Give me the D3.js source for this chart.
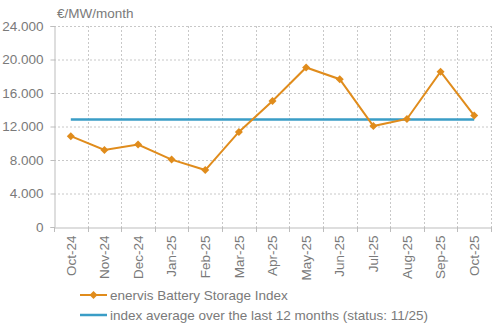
<!DOCTYPE html>
<html><head><meta charset="utf-8">
<script src="https://cdn.jsdelivr.net/npm/d3@7"></script>
<style>body{margin:0;background:#fff}svg{display:block}text{font-family:"Liberation Sans",Arial,sans-serif}</style>
</head><body>
<svg id="c" width="500" height="324"></svg>
<script>
const months = ["Oct-24","Nov-24","Dec-24","Jan-25","Feb-25","Mar-25","Apr-25","May-25","Jun-25","Jul-25","Aug-25","Sep-25","Oct-25"];
const indexValues = [10850, 9200, 9850, 8050, 6800, 11350, 15050, 19050, 17650, 12050, 12900, 18550, 13300];
const averageValue = 12850;
const yTicks = [0, 4000, 8000, 12000, 16000, 20000, 24000];
const seriesNames = ["enervis Battery Storage Index", "index average over the last 12 months (status: 11/25)"];
const unitLabel = "€/MW/month";

const orange = "#E08C1C", blue = "#3A9DC6", grid = "#c8c8c8", txt = "#7a7a7a";
const fs = "13.5px";
const svg = d3.select("#c");
const L = 54, R = 491, T = 26, B = 227;

const x = d3.scaleBand().domain(months).range([L, R]);
const y = d3.scaleLinear().domain([0, 24000]).range([B, T]);
const fmt = v => d3.format(",")(v).replace(/,/g, ".");

// horizontal grid
svg.append("g").selectAll("line").data(yTicks.filter(d => d > 0)).join("line")
  .attr("x1", L).attr("x2", R).attr("y1", d => y(d) + 0.5).attr("y2", d => y(d) + 0.5)
  .attr("stroke", grid).attr("stroke-dasharray", "2,2");
// vertical grid at category boundaries
const bounds = months.map(m => x(m)).slice(1).concat([R]);
svg.append("g").selectAll("line").data(bounds).join("line")
  .attr("x1", d => Math.round(d) + 0.5).attr("x2", d => Math.round(d) + 0.5).attr("y1", T).attr("y2", B)
  .attr("stroke", grid).attr("stroke-dasharray", "2,2");

// y axis
const ya = svg.append("g").attr("transform", `translate(${L + 0.5},0)`)
  .call(d3.axisLeft(y).tickValues(yTicks).tickFormat(fmt).tickSize(4).tickPadding(7));
ya.select(".domain").attr("stroke", "#bdbdbd");
ya.selectAll(".tick line").attr("stroke", "#bdbdbd");
ya.selectAll("text").attr("fill", txt).style("font-size", fs);

// x axis
const xa = svg.append("g").attr("transform", `translate(0,${B + 0.5})`)
  .call(d3.axisBottom(x).tickSize(0).tickPadding(8));
xa.select(".domain").attr("stroke", "#bdbdbd");
xa.selectAll("text").attr("fill", txt).style("font-size", fs)
  .attr("transform", "rotate(-90)").attr("text-anchor", "end")
  .attr("x", -8).attr("y", 0).attr("dy", "0.35em");
svg.append("g").selectAll("line").data([L].concat(bounds)).join("line")
  .attr("x1", d => Math.round(d) + 0.5).attr("x2", d => Math.round(d) + 0.5)
  .attr("y1", B).attr("y2", B + 5).attr("stroke", "#bdbdbd");

// unit label
svg.append("text").attr("x", 57).attr("y", 18).attr("fill", txt).style("font-size", fs).text(unitLabel);

const cx = m => x(m) + x.bandwidth() / 2;

// average line
svg.append("line").attr("x1", cx(months[0])).attr("x2", cx(months[months.length - 1]))
  .attr("y1", y(averageValue)).attr("y2", y(averageValue))
  .attr("stroke", blue).attr("stroke-width", 2.5);

// index line with square-rotated diamond markers
const line = d3.line().x((d, i) => cx(months[i])).y(d => y(d));
svg.append("path").datum(indexValues).attr("d", line)
  .attr("fill", "none").attr("stroke", orange).attr("stroke-width", 2);
const diamond = d3.symbol().type(d3.symbolSquare).size(32);
svg.append("g").selectAll("path").data(indexValues).join("path")
  .attr("d", diamond).attr("transform", (d, i) => `translate(${cx(months[i])},${y(d)}) rotate(45)`)
  .attr("fill", orange);

// legend
const lg = svg.append("g");
lg.append("line").attr("x1", 80).attr("x2", 107).attr("y1", 295).attr("y2", 295).attr("stroke", orange).attr("stroke-width", 2);
lg.append("path").attr("d", diamond).attr("transform", "translate(93.5,295) rotate(45)").attr("fill", orange);
lg.append("text").attr("x", 110).attr("y", 295).attr("dy", "0.35em").attr("fill", txt).style("font-size", fs).text(seriesNames[0]);
lg.append("line").attr("x1", 80).attr("x2", 107).attr("y1", 315).attr("y2", 315).attr("stroke", blue).attr("stroke-width", 2.5);
lg.append("text").attr("x", 110).attr("y", 315).attr("dy", "0.35em").attr("fill", txt).style("font-size", fs).text(seriesNames[1]);
</script>
</body></html>
